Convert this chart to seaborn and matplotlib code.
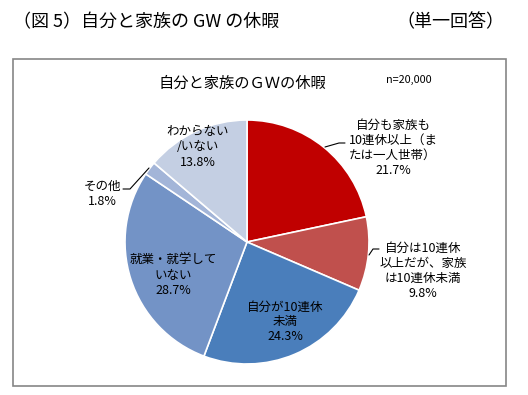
import matplotlib
matplotlib.use("Agg")
import matplotlib.pyplot as plt
import seaborn as sns
from matplotlib.patches import Rectangle

sns.set_theme(style="white")
plt.rcParams['font.family'] = ['Noto Sans CJK JP', 'DejaVu Sans']

# Data
categories = ["自分も家族も\n10連休以上（ま\nたは一人世帯）",
              "自分は10連休\n以上だが、家族\nは10連休未満",
              "自分が10連休\n未満",
              "就業・就学して\nいない",
              "その他",
              "わからない\n/いない"]
values = [21.7, 9.8, 24.3, 28.7, 1.8, 13.8]
colors = ["#C00000", "#C0504D", "#4A7EBB", "#7393C6", "#A3B5D8", "#C4CFE3"]

W, H = 528, 395
fig = plt.figure(figsize=(W / 100, H / 100), dpi=100)
ax = fig.add_axes([0, 0, 1, 1])

cx, cy, r = 247, H - 242, 122
ax.pie(values, colors=colors, startangle=90, counterclock=False,
       center=(cx, cy), radius=r, frame=True,
       wedgeprops=dict(edgecolor="white", linewidth=1.2))
ax.set_xlim(0, W)
ax.set_ylim(0, H)
ax.set_aspect("auto")
ax.axis("off")

# Frame
ax.add_patch(Rectangle((12.5, H - 386), 493.5, 327, fill=False,
                       edgecolor="#868686", linewidth=1.2, zorder=0))

# Titles
fig.text(13 / W, 1 - 22 / H, "（図 5）自分と家族の GW の休暇", fontsize=13,
         ha="left", va="center", color="black")
fig.text(504 / W, 1 - 22 / H, "（単一回答）", fontsize=13,
         ha="right", va="center", color="black")
ax.text(242, H - 83, "自分と家族のＧＷの休暇", fontsize=11, ha="center",
        va="center", color="black")
ax.text(409, H - 80, "n=20,000", fontsize=7.8, ha="center", va="center",
        color="black")

# Labels
label_pos = [(393, H - 148), (423, H - 271), (285, H - 322),
             (173, H - 275), (102, H - 194), (198, H - 147)]
for cat, v, (x, y) in zip(categories, values, label_pos):
    ax.text(x, y, f"{cat}\n{v:.1f}%", fontsize=9, ha="center", va="center",
            linespacing=1.2, color="black")

# Leader lines
leaders = [[(325, H - 147), (339, H - 143), (345, H - 143)],
           [(369, H - 255), (373, H - 249), (379, H - 249)],
           [(149, H - 168), (130, H - 189), (123, H - 189)]]
for pts in leaders:
    xs, ys = zip(*pts)
    ax.plot(xs, ys, color="black", linewidth=0.8)

fig.savefig("out.png", dpi=100)
